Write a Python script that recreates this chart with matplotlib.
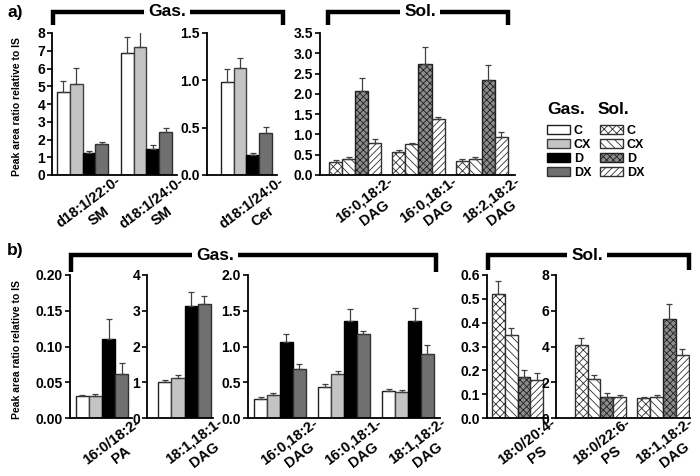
import numpy as np
import matplotlib
matplotlib.use('Agg')
import matplotlib.pyplot as plt
from matplotlib.patches import Patch

plt.rcParams['font.family'] = ['Liberation Sans', 'DejaVu Sans']
plt.rcParams['font.weight'] = 'bold'
plt.rcParams['hatch.linewidth'] = 0.6

series = ['C', 'CX', 'D', 'DX']

# a) top row
a_sm_labels = ['d18:1/22:0-\nSM', 'd18:1/24:0-\nSM']
a_sm_mean = [[4.65, 5.15, 1.22, 1.75], [6.90, 7.20, 1.45, 2.42]]
a_sm_err = [[0.65, 0.90, 0.13, 0.12], [0.85, 0.90, 0.23, 0.25]]

a_cer_labels = ['d18:1/24:0-\nCer']
a_cer_mean = [[0.98, 1.13, 0.21, 0.44]]
a_cer_err = [[0.14, 0.11, 0.02, 0.07]]

a_dag_labels = ['16:0,18:2-\nDAG', '16:0,18:1-\nDAG', '18:2,18:2-\nDAG']
a_dag_mean = [[0.32, 0.40, 2.08, 0.80], [0.57, 0.77, 2.74, 1.37], [0.35, 0.40, 2.33, 0.93]]
a_dag_err = [[0.05, 0.05, 0.30, 0.09], [0.04, 0.03, 0.41, 0.06], [0.05, 0.04, 0.38, 0.12]]

# b) bottom row
b_pa_labels = ['16:0/18:2-\nPA']
b_pa_mean = [[0.031, 0.031, 0.111, 0.062]]
b_pa_err = [[0.001, 0.003, 0.028, 0.015]]

b_dag1_labels = ['18:1,18:1-\nDAG']
b_dag1_mean = [[1.00, 1.12, 3.12, 3.18]]
b_dag1_err = [[0.07, 0.08, 0.41, 0.24]]

b_dag_labels = ['16:0,18:2-\nDAG', '16:0,18:1-\nDAG', '18:1,18:2-\nDAG']
b_dag_mean = [[0.27, 0.32, 1.06, 0.68], [0.44, 0.61, 1.35, 1.17], [0.38, 0.36, 1.36, 0.90]]
b_dag_err = [[0.02, 0.03, 0.11, 0.07], [0.03, 0.05, 0.17, 0.05], [0.03, 0.03, 0.18, 0.12]]

b_ps_labels = ['18:0/20:4-\nPS']
b_ps_mean = [[0.52, 0.35, 0.17, 0.16]]
b_ps_err = [[0.055, 0.028, 0.032, 0.027]]

b_ps2_labels = ['18:0/22:6-\nPS', '18:1,18:2-\nDAG']
b_ps2_mean = [[4.10, 2.20, 1.20, 1.15], [1.10, 1.20, 5.55, 3.55]]
b_ps2_err = [[0.40, 0.22, 0.22, 0.15], [0.10, 0.10, 0.85, 0.30]]

# bar styles
gas_style = [dict(facecolor='white', edgecolor='#202020'),
             dict(facecolor='#c4c4c4', edgecolor='#404040'),
             dict(facecolor='black', edgecolor='black'),
             dict(facecolor='#707070', edgecolor='#303030')]
sol_style = [dict(facecolor='white', edgecolor='#303030', hatch='xxxx'),
             dict(facecolor='white', edgecolor='#303030', hatch='\\\\\\\\'),
             dict(facecolor='#8c8c8c', edgecolor='#202020', hatch='xxxxx'),
             dict(facecolor='white', edgecolor='#303030', hatch='/////')]

W, H = 700, 476
fig = plt.figure(figsize=(W / 100, H / 100), dpi=100)

ROT = 37
LBL = dict(rotation=ROT, rotation_mode='anchor', fontsize=10.5, fontweight='bold',
           textcoords='offset points')


def px_axes(left, top, right, bottom):
    return fig.add_axes([left / W, 1 - bottom / H, (right - left) / W, (bottom - top) / H])


def panel(rect, labels, means, errs, styles, yticks, fmt, gap=1.0, lm=0.4, rm=0.4,
          label_dx=23, label_dy=1):
    ax = px_axes(*rect)
    n = len(labels)
    centers = []
    for g in range(n):
        start = g * (4 + gap)
        x = start + np.arange(4)
        for i in range(4):
            ax.bar(x[i], means[g][i], width=1, align='edge', linewidth=1.0, zorder=2, **styles[i])
        ax.errorbar(x + 0.5, means[g], yerr=[np.zeros(4), errs[g]], fmt='none',
                    ecolor='#404040', elinewidth=0.9, capsize=2.2, capthick=0.9, zorder=3)
        centers.append(start + 2)
    ax.set_xlim(-lm, (n - 1) * (4 + gap) + 4 + rm)
    ax.set_ylim(yticks[0], yticks[-1])
    ax.set_yticks(yticks)
    ax.set_yticklabels([fmt % v for v in yticks], fontsize=10, fontweight='bold')
    ax.set_xticks([])
    for s in ['top', 'right']:
        ax.spines[s].set_visible(False)
    for s in ['left', 'bottom']:
        ax.spines[s].set_linewidth(1.3)
    ax.tick_params(axis='y', direction='out', length=3.5, width=1.2, pad=1.5)
    ax.patch.set_alpha(0)
    # two-line rotated group labels, second line centred under the first
    lh = 12.5
    off = (lh * np.sin(np.radians(ROT)), -lh * np.cos(np.radians(ROT)))
    for c, lab in zip(centers, labels):
        first, second = lab.split('\n')
        t1 = ax.annotate(first, xy=(c, 0), xycoords=('data', 'axes fraction'),
                         xytext=(label_dx, label_dy), ha='right', va='top', **LBL)
        ax.annotate(second, xy=(0.5, 0.5), xycoords=t1, xytext=off,
                    ha='center', va='center', **LBL)
    return ax


axa1 = panel((52, 33, 177, 175), a_sm_labels, a_sm_mean, a_sm_err, gas_style,
             np.arange(0, 9, 1), '%d')
panel((207, 33, 277, 175), a_cer_labels, a_cer_mean, a_cer_err, gas_style,
      np.arange(0, 1.6, 0.5), '%.1f', lm=1.1)
panel((320, 33, 515, 175), a_dag_labels, a_dag_mean, a_dag_err, sol_style,
      np.arange(0, 3.6, 0.5), '%.1f', gap=0.85, lm=0.7, rm=0.55)

axb1 = panel((70, 275, 132, 418), b_pa_labels, b_pa_mean, b_pa_err, gas_style,
             np.arange(0, 0.201, 0.05), '%.2f', lm=0.45, rm=0.3, label_dy=2)
panel((147, 275, 213, 418), b_dag1_labels, b_dag1_mean, b_dag1_err, gas_style,
      np.arange(0, 5, 1), '%d', lm=0.85, rm=0.15, label_dy=2)
panel((248, 275, 440, 418), b_dag_labels, b_dag_mean, b_dag_err, gas_style,
      np.arange(0, 2.1, 0.5), '%.1f', gap=0.95, lm=0.47, rm=0.47, label_dy=2)
panel((487, 275, 548, 418), b_ps_labels, b_ps_mean, b_ps_err, sol_style,
      np.arange(0, 0.61, 0.1), '%.1f', label_dy=2)
panel((556, 275, 690, 418), b_ps2_labels, b_ps2_mean, b_ps2_err, sol_style,
      np.arange(0, 9, 2), '%d', gap=0.85, lm=1.45, rm=0.1, label_dx=17, label_dy=2)

axa1.set_ylabel('Peak area ratio relative to IS', fontsize=7.5, fontweight='bold')
axb1.set_ylabel('Peak area ratio relative to IS', fontsize=7.5, fontweight='bold')
axa1.yaxis.set_label_coords((22 - 52) / 125, 0.48)
axb1.yaxis.set_label_coords((22 - 70) / 62, 0.48)

# overlay for group brackets and panel letters
ov = fig.add_axes([0, 0, 1, 1], zorder=5)
ov.set_xlim(0, W)
ov.set_ylim(H, 0)
ov.axis('off')


def bracket(x0, x1, ytop, ybot, label, xt):
    ov.plot([x0, x0, x1, x1], [ybot, ytop, ytop, ybot], color='black', lw=3.2,
            solid_joinstyle='miter', solid_capstyle='butt')
    ov.text(xt, ytop, label, ha='center', va='center', fontsize=12.5, fontweight='bold',
            bbox=dict(facecolor='white', edgecolor='none', pad=3))


bracket(53, 283, 12, 25, 'Gas.', 167)
bracket(328, 508, 12, 25, 'Sol.', 420)
bracket(71, 436, 255, 272, 'Gas.', 215)
bracket(488, 689, 255, 270, 'Sol.', 587)

ov.text(7, 12, 'a)', fontsize=12.5, fontweight='bold', va='center')
ov.text(7, 251, 'b)', fontsize=12.5, fontweight='bold', va='center')

# legends
ov.text(547, 110, 'Gas.', fontsize=12.5, fontweight='bold', va='center')
ov.text(598, 110, 'Sol.', fontsize=12.5, fontweight='bold', va='center')

gas_handles = [Patch(linewidth=1.0, **st) for st in gas_style]
sol_handles = [Patch(linewidth=1.0, **st) for st in sol_style]
leg_kw = dict(loc='upper left', frameon=False, borderpad=0, borderaxespad=0,
              handlelength=1.85, handleheight=0.72, handletextpad=0.3, labelspacing=0.15,
              prop=dict(weight='bold', size=9))
fig.legend(gas_handles, series, bbox_to_anchor=(547 / W, 1 - 125 / H), **leg_kw)
fig.legend(sol_handles, series, bbox_to_anchor=(600 / W, 1 - 125 / H), **leg_kw)

fig.savefig('out.png', dpi=100)
